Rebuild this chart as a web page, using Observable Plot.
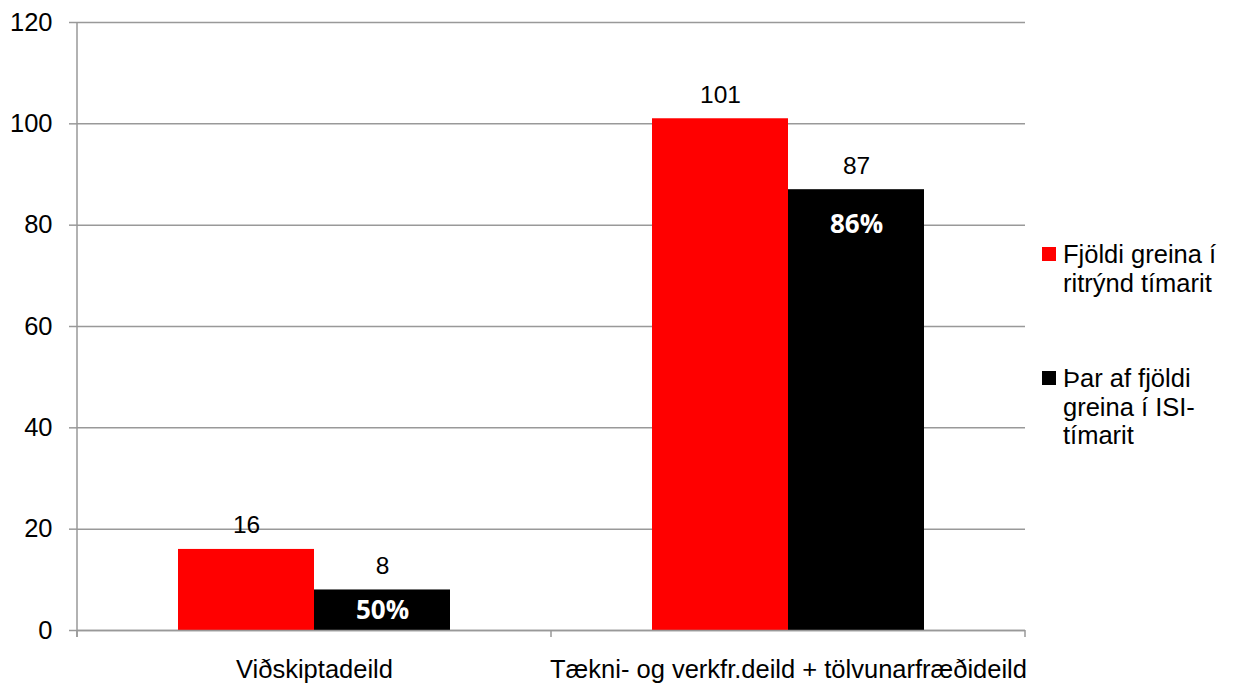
<!DOCTYPE html>
<html>
<head>
<meta charset="utf-8">
<script src="https://cdn.jsdelivr.net/npm/d3@7"></script>
<script src="https://cdn.jsdelivr.net/npm/@observablehq/plot@0.6"></script>
<style>
html, body { margin: 0; padding: 0; background: #fff; }
#wrap { position: relative; width: 1233px; height: 683px; font-family: "Liberation Sans", Arial, sans-serif; }
#chart svg { display: block; }
.leg { position: absolute; left: 1063px; font-size: 25.5px; line-height: 28.5px; color: #000; white-space: nowrap; }
.sw { position: absolute; left: 1042px; width: 14px; height: 14px; }
</style>
</head>
<body>
<div id="wrap"><div id="chart"></div><div id="legend"></div></div>
<script>
// ---- data ----
const departments = ["Viðskiptadeild", "Tækni- og verkfr.deild + tölvunarfræðideild"];
const seriesNames = ["Fjöldi greina í ritrýnd tímarit", "Þar af fjöldi greina í ISI-tímarit"];
const seriesLegendLines = [["Fjöldi greina í", "ritrýnd tímarit"], ["Þar af fjöldi", "greina í ISI-", "tímarit"]];
const totalArticles = [16, 101];
const isiArticles = [8, 87];
const isiShareLabels = ["50%", "86%"];
const yTicks = [0, 20, 40, 60, 80, 100, 120];
const seriesColors = ["#ff0000", "#000000"];

// ---- tables built from the arrays ----
const rows = departments.flatMap((d, i) => [
  {dept: d, series: seriesNames[0], value: totalArticles[i]},
  {dept: d, series: seriesNames[1], value: isiArticles[i]}
]);
const shareRows = departments.map((d, i) => ({dept: d, series: seriesNames[1], value: isiArticles[i], label: isiShareLabels[i]}));

const axisColor = "#999999";

// custom mark: y-axis line and category boundary ticks, drawn from the scales
const axisFrame = Plot.frame({
  facet: "super",
  render(index, scales, values, dimensions, context) {
    const g = d3.create("svg:g").attr("stroke", axisColor).attr("stroke-width", 1.5).attr("fill", "none");
    const y = scales.y;
    const fx = scales.fx;
    const y0 = y ? y(yTicks[0]) : dimensions.height - dimensions.marginBottom;
    const yTop = y ? y(yTicks[yTicks.length - 1]) : dimensions.marginTop;
    let edges = [];
    if (fx && fx.bandwidth) {
      for (const d of fx.domain()) { edges.push(fx(d)); edges.push(fx(d) + fx.bandwidth()); }
    } else {
      edges = [dimensions.marginLeft, dimensions.width - dimensions.marginRight];
    }
    edges = Array.from(new Set(edges.map(e => Math.round(e * 10) / 10))).sort((a, b) => a - b);
    g.append("line").attr("x1", edges[0]).attr("x2", edges[0]).attr("y1", yTop).attr("y2", y0 + 7);
    for (const e of edges) {
      g.append("line").attr("x1", e).attr("x2", e).attr("y1", y0).attr("y2", y0 + 7);
    }
    return g.node();
  }
});

const chart = Plot.plot({
  width: 1233,
  height: 683,
  marginLeft: 77,
  marginRight: 208,
  marginTop: 22,
  marginBottom: 53,
  style: {fontFamily: '"Liberation Sans", Arial, sans-serif', fontSize: "25px", color: "#000", background: "#fff", overflow: "visible"},
  fx: {domain: departments, padding: 0, label: null},
  x: {domain: seriesNames, paddingInner: 0, paddingOuter: 0.7426, axis: null},
  y: {domain: [0, 120], label: null},
  color: {domain: seriesNames, range: seriesColors},
  marks: [
    Plot.gridY(yTicks, {stroke: axisColor, strokeOpacity: 1, strokeWidth: 1.5}),
    Plot.axisY(yTicks, {tickSize: 8, tickPadding: 17, stroke: axisColor, strokeWidth: 1.5, fill: "#000", fontSize: 25.5, label: null, tickFormat: d => String(d)}),
    Plot.axisFx({anchor: "bottom", tickSize: 0, tickPadding: 29, fontSize: 25.5, fill: "#000", label: null}),
    Plot.barY(rows, {fx: "dept", x: "series", y: "value", fill: "series"}),
    Plot.ruleY([0], {stroke: axisColor, strokeWidth: 1.5}),
    Plot.text(rows, {fx: "dept", x: "series", y: "value", text: d => String(d.value), lineAnchor: "bottom", dy: -16, fontSize: 24.5, fill: "#000"}),
    Plot.text(shareRows, {fx: "dept", x: "series", y: d => Math.max(d.value / 2, d.value - 7), text: "label", fill: "#fff", fontWeight: 700, fontFamily: '"Open Sans", sans-serif', fontSize: 26, lineAnchor: "middle"}),
    axisFrame
  ]
});
document.getElementById("chart").appendChild(chart);

// ---- legend (HTML, to the right of the plot area) ----
const legendTops = [240, 364];
const legend = document.getElementById("legend");
seriesLegendLines.forEach((lines, i) => {
  const sw = document.createElement("div");
  sw.className = "sw";
  sw.style.top = (legendTops[i] + 7) + "px";
  sw.style.background = seriesColors[i];
  legend.appendChild(sw);
  const t = document.createElement("div");
  t.className = "leg";
  t.style.top = legendTops[i] + "px";
  t.innerHTML = lines.join("<br>");
  legend.appendChild(t);
});
</script>
</body>
</html>
